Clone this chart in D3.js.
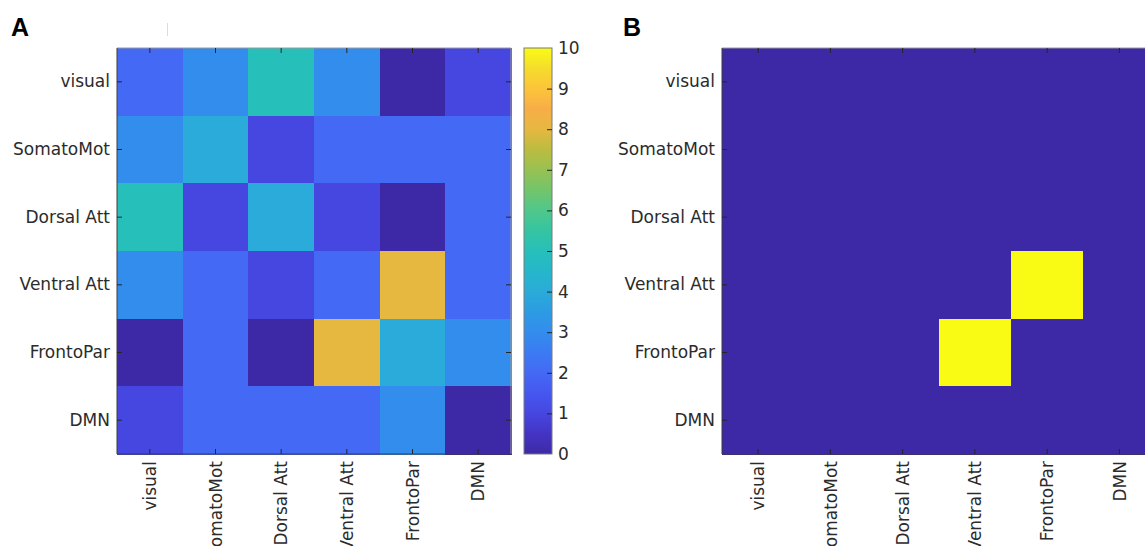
<!DOCTYPE html>
<html>
<head>
<meta charset="utf-8">
<script src="https://cdn.jsdelivr.net/npm/d3@7"></script>
<style>
  body { margin: 0; background: #fff; }
  text { font-family: 'DejaVu Sans', sans-serif; fill: #2b2b2b; }
</style>
</head>
<body>
<div id="chart"></div>
<script>
// networks (rows and columns use the same order)
var labels = ['visual', 'SomatoMot', 'Dorsal Att', 'Ventral Att', 'FrontoPar', 'DMN'];

// panel A values, one row per network
var rowVisual    = [2, 3, 5, 3, 0, 1];
var rowSomatoMot = [3, 4, 1, 2, 2, 2];
var rowDorsal    = [5, 1, 4, 1, 0, 2];
var rowVentral   = [3, 2, 1, 2, 8, 2];
var rowFronto    = [0, 2, 0, 8, 4, 3];
var rowDMN       = [1, 2, 2, 2, 3, 0];

// panel B values (binary)
var bVisual    = [0, 0, 0, 0, 0, 0];
var bSomatoMot = [0, 0, 0, 0, 0, 0];
var bDorsal    = [0, 0, 0, 0, 0, 0];
var bVentral   = [0, 0, 0, 0, 1, 0];
var bFronto    = [0, 0, 0, 1, 0, 0];
var bDMN       = [0, 0, 0, 0, 0, 0];

// colorbar tick labels
var cbarTicks = [0, 1, 2, 3, 4, 5, 6, 7, 8, 9, 10];

var matrixA = [rowVisual, rowSomatoMot, rowDorsal, rowVentral, rowFronto, rowDMN];
var matrixB = [bVisual, bSomatoMot, bDorsal, bVentral, bFronto, bDMN];

// parula-like colormap, stops on a 0..1 scale
var parulaPos = [0, .05, .1, .15, .2, .25, .3, .35, .4, .45, .5, .55, .6, .65, .7, .75, .8, .85, .9, .95, 1];
var parulaCol = ['#3d29a5', '#4434c4', '#4646e0', '#4557ef', '#4469f5', '#3b7bf2', '#338ded',
                 '#2c9be3', '#2aabd9', '#25b6cb', '#27bfb9', '#35c4a2', '#50c78a', '#72c56b',
                 '#98c152', '#bbbc40', '#e6b840', '#f7ad47', '#fcc43a', '#f5dc2c', '#f9fb15'];

var fontSize = '17px';

var svg = d3.select('#chart')
  .append('svg')
    .attr('width', 1145)
    .attr('height', 546);

function parula(lo, hi) {
  return d3.scaleLinear()
    .domain(parulaPos.map(function(p) { return lo + p * (hi - lo); }))
    .range(parulaCol)
    .interpolate(d3.interpolateRgb)
    .clamp(true);
}

function cells(matrix) {
  var out = [];
  matrix.forEach(function(row, i) {
    row.forEach(function(v, j) {
      out.push({row: labels[i], col: labels[j], value: v});
    });
  });
  return out;
}

// draws one heatmap panel, returns its group
function panel(left, top, w, h, matrix, color, letter) {
  var g = svg.append('g')
    .attr('transform', 'translate(' + left + ',' + top + ')');

  var x = d3.scaleBand().domain(labels).range([0, w]);
  var y = d3.scaleBand().domain(labels).range([0, h]);

  g.selectAll('rect.cell')
    .data(cells(matrix))
    .enter()
    .append('rect')
      .attr('class', 'cell')
      .attr('x', function(d) { return x(d.col); })
      .attr('y', function(d) { return y(d.row); })
      .attr('width', x.bandwidth() + 0.5)
      .attr('height', y.bandwidth() + 0.5)
      .attr('shape-rendering', 'crispEdges')
      .attr('fill', function(d) { return color(d.value); });

  // box
  g.append('path').attr('d', 'M0,0H' + w + 'V' + h)
    .attr('fill', 'none').attr('stroke', '#9a9a9a');
  g.append('path').attr('d', 'M0,0V' + h + 'H' + w)
    .attr('fill', 'none').attr('stroke', '#3c3c3c');

  // axes with ticks pointing inward
  var leftAxis = g.append('g')
    .call(d3.axisLeft(y).tickSizeInner(-5).tickSizeOuter(0).tickPadding(7));
  leftAxis.selectAll('text').style('font-size', fontSize).attr('fill', '#2b2b2b');

  var bottom = g.append('g')
    .attr('transform', 'translate(0,' + h + ')')
    .call(d3.axisBottom(x).tickSizeInner(-5).tickSizeOuter(0));
  bottom.selectAll('text')
    .style('font-size', fontSize)
    .attr('fill', '#2b2b2b')
    .attr('transform', 'rotate(-90)')
    .attr('x', -7)
    .attr('y', 0)
    .attr('dy', '0.36em')
    .style('text-anchor', 'end');

  g.append('g')
    .call(d3.axisTop(x).tickSizeInner(-5).tickSizeOuter(0).tickFormat(''));
  g.append('g')
    .attr('transform', 'translate(' + w + ',0)')
    .call(d3.axisRight(y).tickSizeInner(-5).tickSizeOuter(0).tickFormat(''));

  g.selectAll('.domain').remove();
  g.selectAll('.tick line').attr('stroke', '#262626');

  // panel letter
  svg.append('text')
    .attr('x', letter.x)
    .attr('y', 36)
    .style('font-family', "'Liberation Sans', Arial, sans-serif")
    .style('font-weight', 'bold')
    .style('font-size', '25px')
    .style('fill', '#000')
    .text(letter.t);
  return g;
}

var plotTop = 48, plotH = 406;
var colorA = parula(0, 10);
var colorB = parula(0, 1);

panel(117, plotTop, 394, plotH, matrixA, colorA, {x: 11, t: 'A'});
panel(722, plotTop, 433.5, plotH, matrixB, colorB, {x: 623, t: 'B'});

// faint stray mark next to the A letter
svg.append('line')
  .attr('x1', 167.5).attr('x2', 167.5)
  .attr('y1', 23).attr('y2', 36)
  .attr('stroke', '#dcdcdc');

// colorbar for panel A
var cb = svg.append('g').attr('transform', 'translate(524,' + plotTop + ')');
var cbScale = d3.scaleLinear().domain([0, 10]).range([plotH, 0]);

var grad = svg.append('defs').append('linearGradient')
  .attr('id', 'cbgrad')
  .attr('x1', 0).attr('y1', 1).attr('x2', 0).attr('y2', 0);
grad.selectAll('stop')
  .data(d3.range(0, 10.01, 0.25))
  .enter()
  .append('stop')
    .attr('offset', function(d) { return d / 10; })
    .attr('stop-color', function(d) { return colorA(d); });

cb.append('rect')
  .attr('width', 28)
  .attr('height', plotH)
  .attr('fill', 'url(#cbgrad)')
  .attr('stroke', '#7a7a7a');

var cbAxis = cb.append('g')
  .attr('transform', 'translate(28,0)')
  .call(d3.axisRight(cbScale).tickValues(cbarTicks).tickFormat(d3.format('d'))
        .tickSizeInner(-5).tickSizeOuter(0).tickPadding(6));
cbAxis.select('.domain').remove();
cbAxis.selectAll('.tick line').attr('stroke', '#262626');
cbAxis.selectAll('text').style('font-size', fontSize).attr('fill', '#2b2b2b');
// drop the end ticks that sit on the box edge
cbAxis.selectAll('.tick line').filter(function(d) { return d === 0 || d === 10; }).remove();
</script>
</body>
</html>
